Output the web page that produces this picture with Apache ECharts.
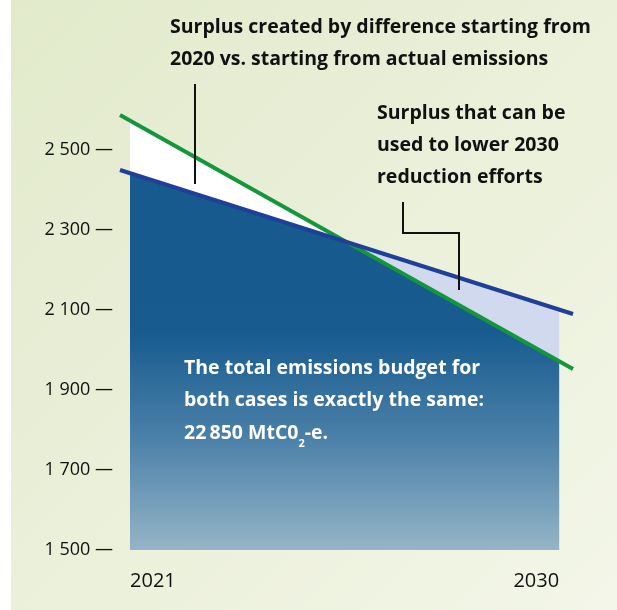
<!DOCTYPE html>
<html>
<head>
<meta charset="utf-8">
<script src="https://cdn.jsdelivr.net/npm/echarts@6/dist/echarts.min.js"></script>
<style>
html,body{margin:0;padding:0;background:#fff;}
#chart{width:617px;height:610px;}
</style>
</head>
<body>
<div id="chart"></div>
<script>
// ---- data ----
const xLabelsLeft = [2021];
const xLabelsRight = [2030];
const yTicks = [1500, 1700, 1900, 2100, 2300, 2500];
// trajectory lines (extend slightly beyond the budget period)
const lineYears = [2020.79, 2030.29];
const actualLine = [2450, 2090];       // blue: starting from actual emissions
const from2020Line = [2587.5, 1952.5]; // green: starting from 2020
// budget period fills 2021..2030 (with crossing point)
const fillYears = [2021, 2025.54, 2030];
const actualFill = [2442, 2270, 2101];
const from2020Fill = [2573.5, 2270, 1972];
const budgetFill = [2442, 2270, 1972];

const FONT = '"Open Sans"';
const pairs = (xs, ys) => xs.map((x, i) => [x, ys[i]]);

const chart = echarts.init(document.getElementById('chart'));
const option = {
  animation: false,
  grid: { left: 120, right: 44, top: 110, bottom: 60, containLabel: false },
  xAxis: [
    {
      type: 'value', min: 2020.79, max: 2030.29, position: 'bottom',
      axisLine: { show: false }, axisTick: { show: false }, splitLine: { show: false },
      axisLabel: { customValues: xLabelsLeft, align: 'left', margin: 21,
        fontFamily: FONT, fontSize: 20, color: '#111', formatter: v => String(v) }
    },
    {
      type: 'value', min: 2020.79, max: 2030.29, position: 'bottom',
      axisLine: { show: false }, axisTick: { show: false }, splitLine: { show: false },
      axisLabel: { customValues: xLabelsRight, align: 'right', margin: 21,
        fontFamily: FONT, fontSize: 20, color: '#111', formatter: v => String(v) }
    }
  ],
  yAxis: {
    type: 'value', min: 1500, max: 2600, interval: 100,
    axisLine: { show: false }, axisTick: { show: false }, splitLine: { show: false },
    axisLabel: {
      margin: 7, fontFamily: FONT, fontSize: 18, color: '#111',
      formatter: v => yTicks.includes(v)
        ? String(v).replace(/^(\d)(\d{3})$/, '$1 $2') + ' \u2014' : ''
    }
  },
  graphic: [
    { type: 'rect', z: -10, silent: true,
      shape: { x: 11, y: 0, width: 606, height: 610 },
      style: { fill: { type: 'linear', x: 0, y: 0, x2: 1, y2: 1,
        colorStops: [{ offset: 0, color: '#e2eacb' }, { offset: 1, color: '#f3f6e8' }] } } },
    { type: 'text', z: 100, left: 170, top: 11,
      style: { text: 'Surplus created by difference starting from\n2020 vs. starting from actual emissions',
        fill: '#111', font: 'bold 19.5px ' + FONT, lineHeight: 32 } },
    { type: 'text', z: 100, left: 377, top: 97,
      style: { text: 'Surplus that can be\nused to lower 2030\nreduction efforts',
        fill: '#111', font: 'bold 19.5px ' + FONT, lineHeight: 32 } },
    { type: 'text', z: 100, left: 184, top: 352,
      style: { text: 'The total emissions budget for\nboth cases is exactly the same:\n22\u2009850 MtC0{sub|2}-e.',
        fill: '#fff', font: 'bold 19.5px ' + FONT, lineHeight: 32.5,
        rich: { sub: { fill: '#fff', font: 'bold 11px ' + FONT, lineHeight: 12, verticalAlign: 'bottom' } } } },
    { type: 'polyline', z: 100, shape: { points: [[195, 84], [195, 184]] },
      style: { stroke: '#111', lineWidth: 2, fill: null } },
    { type: 'polyline', z: 100, shape: { points: [[403, 202], [403, 233], [459, 233], [459, 290]] },
      style: { stroke: '#111', lineWidth: 2, fill: null } }
  ],
  series: [
    { type: 'line', name: 'surplus2020', data: pairs(fillYears, from2020Fill), symbol: 'none',
      lineStyle: { width: 0 }, areaStyle: { color: '#ffffff', opacity: 1, origin: 'start' }, z: 1 },
    { type: 'line', name: 'surplusActual', data: pairs(fillYears, actualFill), symbol: 'none',
      lineStyle: { width: 0 }, areaStyle: { color: '#d0d9ee', opacity: 1, origin: 'start' }, z: 2 },
    { type: 'line', name: 'budget', data: pairs(fillYears, budgetFill), symbol: 'none',
      lineStyle: { width: 0 },
      areaStyle: { opacity: 1, origin: 'start',
        color: { type: 'linear', x: 0, y: 173, x2: 0, y2: 550, global: true,
          colorStops: [{ offset: 0, color: '#175a8e' }, { offset: 0.42, color: '#175b8f' },
                       { offset: 0.7, color: '#4a80a8' }, { offset: 1, color: '#95b4c7' }] } }, z: 3 },
    { type: 'line', name: 'from2020', data: pairs(lineYears, from2020Line), symbol: 'none',
      lineStyle: { width: 4, color: '#14973c' }, z: 4 },
    { type: 'line', name: 'actual', data: pairs(lineYears, actualLine), symbol: 'none',
      lineStyle: { width: 4, color: '#203f98' }, z: 5 }
  ]
};
chart.setOption(option);
</script>
</body>
</html>
